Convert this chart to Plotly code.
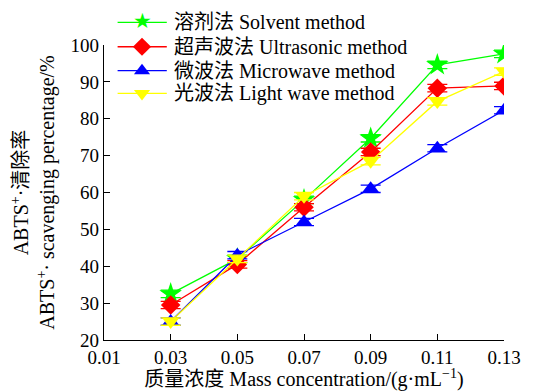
import plotly.graph_objects as go

x = [0.03, 0.05, 0.07, 0.09, 0.11, 0.13]
solvent = [32.5, 42.0, 58.0, 74.7, 94.6, 97.6]
ultrasonic = [29.5, 40.5, 56.0, 71.0, 88.3, 88.9]
microwave = [25.0, 43.0, 52.0, 61.0, 72.0, 82.3]
lightwave = [25.0, 42.0, 59.0, 68.5, 84.7, 92.8]
err = [1.0, 1.0, 1.0, 1.0, 1.0, 1.0]

names = ["溶剂法 Solvent method", "超声波法 Ultrasonic method",
         "微波法 Microwave method", "光波法 Light wave method"]
series = [solvent, ultrasonic, microwave, lightwave]
colors = ["#00ff00", "#ff0000", "#0000ff", "#ffff00"]
symbols = ["star", "diamond", "triangle-up", "triangle-down"]
glyphs = ["★", "◆", "▲", "▼"]
sizes = [17, 15, 15, 15]

xticks = [0.01, 0.03, 0.05, 0.07, 0.09, 0.11, 0.13]
yticks = [20, 30, 40, 50, 60, 70, 80, 90, 100]

font = "Liberation Serif, Times New Roman, Noto Sans CJK SC, serif"

fig = go.Figure()
for n, s, c, sym, sz in zip(names, series, colors, symbols, sizes):
    fig.add_trace(go.Scatter(
        x=x, y=s, name=n, mode="lines+markers", showlegend=False,
        line=dict(color=c, width=1.3),
        marker=dict(symbol=sym, size=sz, color=c, line=dict(width=0)),
        error_y=dict(type="data", array=err, color=c, thickness=1.3, width=10),
    ))

# hand-built legend (paper-fraction layout positions)
leg_rows = [1.077, 0.994, 0.913, 0.836]
leg_line = (0.034, 0.157)
leg_mark = 0.095
leg_text = 0.17
for i, (n, c, sym, g, ly) in enumerate(zip(names, colors, symbols, glyphs, leg_rows)):
    fig.add_shape(type="line", xref="paper", yref="paper",
                  x0=leg_line[0], x1=leg_line[1], y0=ly, y1=ly,
                  line=dict(color=c, width=1.3))
    if ly <= 1.0:
        fig.add_trace(go.Scatter(
            x=[leg_mark], y=[ly], xaxis="x2", yaxis="y2", mode="markers",
            marker=dict(symbol=sym, size=14, color=c, line=dict(width=0)),
            cliponaxis=False, showlegend=False, hoverinfo="skip"))
    else:
        fig.add_annotation(text=g, xref="paper", yref="paper", x=leg_mark,
                           y=ly, xanchor="center", yanchor="middle",
                           showarrow=False, yshift=1,
                           font=dict(size=21, family="DejaVu Sans", color=c))
    fig.add_annotation(text=n, xref="paper", yref="paper", x=leg_text, y=ly,
                       xanchor="left", yanchor="middle", showarrow=False,
                       font=dict(size=20, family=font, color="black"))

# page body has an 8px margin, so the figure is sized to fit the 540x391 window
fig.update_layout(
    width=532, height=383,
    margin=dict(l=96, r=36, t=37, b=51, autoexpand=False),
    plot_bgcolor="white", paper_bgcolor="white",
    font=dict(family=font, size=19, color="black"),
    showlegend=False,
    xaxis=dict(range=[0.01, 0.13], tickvals=xticks,
               ticktext=[f"{v:.2f}" for v in xticks],
               showgrid=False, zeroline=False, showline=True,
               linecolor="black", linewidth=1.3, ticks="inside",
               ticklen=6, tickcolor="black", mirror=False, automargin=False,
               title=dict(text="质量浓度 Mass concentration/(g·mL<sup>−1</sup>)",
                          font=dict(size=20), standoff=0)),
    yaxis=dict(range=[20, 100], tickvals=yticks,
               showgrid=False, zeroline=False, showline=True,
               linecolor="black", linewidth=1.3, ticks="inside",
               ticklen=6, tickcolor="black", automargin=False,
               title=dict(text="ABTS<sup>+</sup>·清除率<br>ABTS<sup>+</sup>· scavenging percentage/%",
                          font=dict(size=20), standoff=12)),
    xaxis2=dict(range=[0, 1], overlaying="x", visible=False, domain=[0, 1]),
    yaxis2=dict(range=[0, 1], overlaying="y", visible=False, domain=[0, 1]),
)

fig.write_html("out.html")
